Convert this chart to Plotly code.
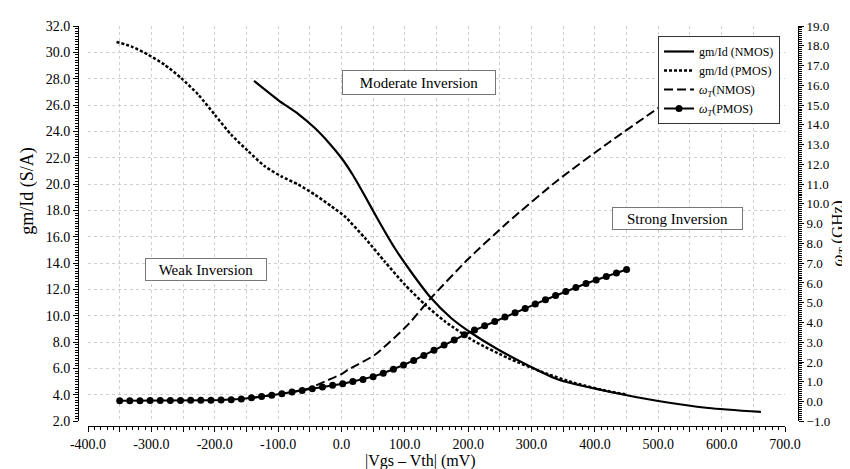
import plotly.graph_objects as go

# |Vgs - Vth| sweep values (mV) and curves
nmos_gm_x = [-138, -100, -68, -42, -21, 0, 18, 37, 58, 84, 110, 140, 173, 205, 243, 290, 342, 421, 500, 579, 662]
nmos_gm = [27.83, 26.38, 25.32, 24.26, 23.20, 21.98, 20.69, 19.10, 17.28, 15.15, 13.33, 11.43, 9.84,
           8.70, 7.56, 6.35, 5.17, 4.26, 3.54, 3.01, 2.71]

pmos_gm_x = [-355, -332, -305, -279, -253, -226, -200, -174, -147, -121, -95, -68, -42, -16, 5, 37,
             68, 100, 132, 163, 210, 263, 316, 370, 420, 450]
pmos_gm = [30.79, 30.46, 29.82, 29.06, 28.05, 26.79, 25.27, 23.75, 22.49, 21.35, 20.59, 19.96, 19.20,
           18.32, 17.56, 15.91, 14.14, 12.37, 10.85, 9.59, 8.07, 6.80, 5.75, 4.88, 4.30, 4.03]

nmos_wt_x = [-140, -100, -57, -21, 0, 10, 53, 105, 140, 200, 263, 342, 421, 500, 579, 660]
nmos_wt = [0.18, 0.38, 0.61, 1.09, 1.39, 1.60, 2.37, 3.89, 5.19, 7.21, 9.08, 11.21, 13.08, 14.85, 16.57, 18.24]

pmos_wt_x = [-350, -334, -318, -302, -286, -270, -254, -238, -222, -206, -190, -174, -158, -142, -126,
             -110, -94, -78, -62, -46, -30, -14, 2, 18, 34, 50, 66, 82, 98, 114, 130, 146, 162, 178,
             194, 210, 226, 242, 258, 274, 290, 306, 322, 338, 354, 370, 386, 402, 418, 434, 450]
pmos_wt = [0.04, 0.04, 0.04, 0.05, 0.05, 0.05, 0.05, 0.06, 0.06, 0.07, 0.08, 0.09, 0.13, 0.19, 0.25,
           0.32, 0.39, 0.48, 0.56, 0.65, 0.74, 0.82, 0.90, 1.01, 1.12, 1.26, 1.43, 1.63, 1.85, 2.08,
           2.33, 2.60, 2.86, 3.11, 3.38, 3.62, 3.83, 4.05, 4.28, 4.49, 4.71, 4.93, 5.15, 5.36, 5.57,
           5.77, 5.97, 6.15, 6.32, 6.50, 6.68]

x_ticks = list(range(-400, 701, 50))
x_text = ["%.1f" % v if v % 100 == 0 else "" for v in x_ticks]

fig = go.Figure()
fig.add_trace(go.Scatter(x=nmos_gm_x, y=nmos_gm, name="gm/Id (NMOS)", mode="lines",
                         line=dict(color="black", width=2.2, shape="spline", smoothing=0.6)))
fig.add_trace(go.Scatter(x=pmos_gm_x, y=pmos_gm, name="gm/Id (PMOS)", mode="lines",
                         line=dict(color="black", width=2.5, dash="3px,2px", shape="spline", smoothing=0.6)))
fig.add_trace(go.Scatter(x=nmos_wt_x, y=nmos_wt, name="<i>ω<sub>T</sub></i>(NMOS)", mode="lines", yaxis="y2",
                         line=dict(color="black", width=2, dash="9px,4px", shape="spline", smoothing=0.6)))
fig.add_trace(go.Scatter(x=pmos_wt_x, y=pmos_wt, name="<i>ω<sub>T</sub></i>(PMOS)", mode="lines+markers", yaxis="y2",
                         line=dict(color="black", width=2),
                         marker=dict(color="black", size=7, symbol="circle")))

tickfont = dict(family="Liberation Serif", size=14, color="black")
grid = "#cfcfcf"

fig.update_layout(
    width=850, height=469,
    margin=dict(l=70, r=60, t=18, b=51),
    paper_bgcolor="white", plot_bgcolor="white",
    font=dict(family="Liberation Serif", color="black"),
    xaxis=dict(domain=[0.01389, 0.98194], range=[-400, 700], anchor="free", position=0,
               tickmode="array", tickvals=x_ticks, ticktext=x_text,
               ticks="outside", ticklen=5, tickcolor="black", tickfont=tickfont,
               showline=True, linecolor="black", linewidth=1, zeroline=False,
               showgrid=True, gridcolor=grid, griddash="dot", gridwidth=1,
               minor=dict(dtick=10, ticks="outside", ticklen=3, tickcolor="black", showgrid=False),
               automargin=False),
    yaxis=dict(domain=[0.01175, 1], range=[2, 32], anchor="free", position=0,
               dtick=2, tickformat=".1f", ticks="outside", ticklen=5, tickcolor="black", tickfont=tickfont,
               showline=True, linecolor="black", linewidth=1, zeroline=False,
               showgrid=True, gridcolor=grid, griddash="dot", gridwidth=1,
               minor=dict(dtick=0.2, ticks="outside", ticklen=3, tickcolor="black", showgrid=False),
               automargin=False),
    yaxis2=dict(overlaying="y", side="right", anchor="free", position=1, range=[-1, 19],
                dtick=1, tickformat=".1f", ticks="outside", ticklen=5, tickcolor="black",
                tickfont=dict(family="Liberation Serif", size=13, color="black"),
                showline=True, linecolor="black", linewidth=1, zeroline=False, showgrid=False,
                minor=dict(dtick=0.1, ticks="outside", ticklen=3, tickcolor="black", showgrid=False),
                automargin=False),
    legend=dict(x=0.8056, y=0.975, xanchor="left", yanchor="top", bgcolor="white",
                bordercolor="#333333", borderwidth=1, font=dict(size=12), itemwidth=30,
                tracegroupgap=0),
    showlegend=True,
)

# axis titles
fig.add_annotation(text="|Vgs – Vth| (mV)", xref="paper", yref="paper", x=0.475, y=-0.0875,
                   xanchor="center", yanchor="middle", showarrow=False, font=dict(size=16))
fig.add_annotation(text="gm/Id (S/A)", xref="paper", yref="paper", x=-0.0694, y=0.588,
                   xanchor="center", yanchor="middle", showarrow=False, textangle=-90, font=dict(size=18))
fig.add_annotation(text="<i>ω<sub>T</sub></i> (GHz)", xref="paper", yref="paper", x=1.0569, y=0.481,
                   xanchor="center", yanchor="middle", showarrow=False, textangle=-90, font=dict(size=17),
                   borderpad=0)

boxes = [("Moderate Inversion", 0.4736, 0.86, 150, 21),
         ("Weak Inversion", 0.1778, 0.3925, 118, 19),
         ("Strong Inversion", 0.8333, 0.519, 127, 19)]
for text, bx, by, bw, bh in boxes:
    fig.add_annotation(text=text, xref="paper", yref="paper", x=bx, y=by, showarrow=False,
                       xanchor="center", yanchor="middle",
                       width=bw, height=bh, font=dict(size=15, color="black"),
                       bgcolor="white", bordercolor="#777777", borderwidth=1, borderpad=1)

fig.write_html("out.html")
